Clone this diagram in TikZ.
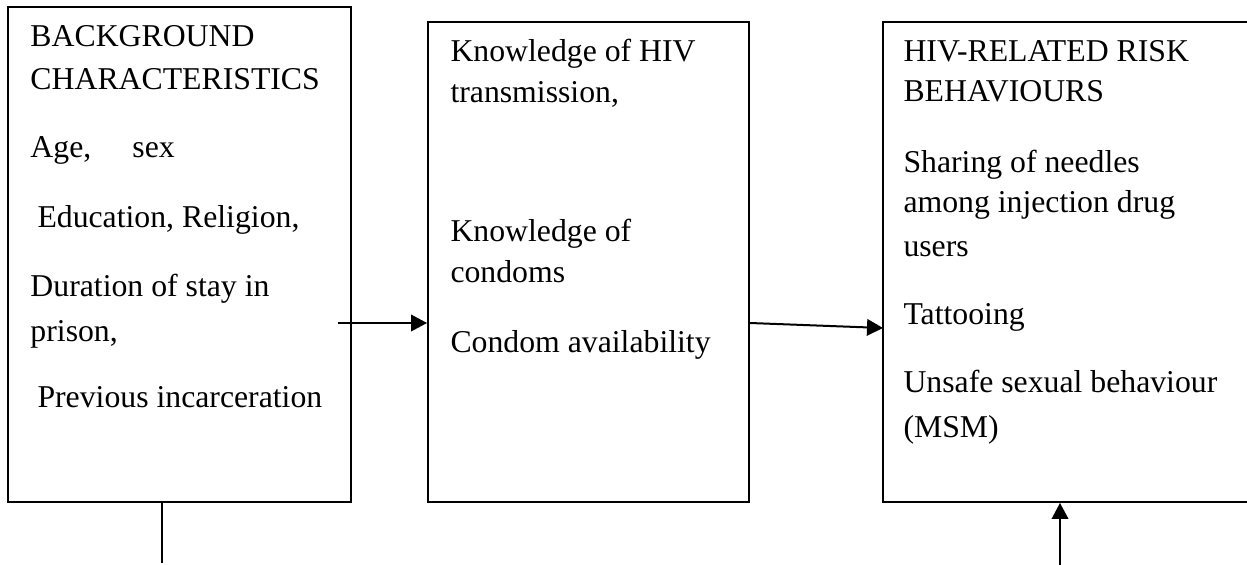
\documentclass[tikz,border=0pt]{standalone}
\usepackage{fontspec}
\setmainfont{Liberation Serif}
\usetikzlibrary{arrows.meta,fit,positioning}

\begin{document}
\begin{tikzpicture}[
  x=0.4pt, y=-0.4pt,
  box/.style={draw, line width=0.75pt, inner sep=0pt},
  txt/.style={anchor=base west, inner sep=0pt, font=\fontsize{12.7}{14}\selectfont},
  arr/.style={line width=0.8pt, -{Triangle[length=6.4pt,width=6.6pt]}}
]
\useasboundingbox (0,0) rectangle (1247,565);
% the three boxes
\node[box, fit={(8,7) (351,502)}] (bg) {};
\node[box, fit={(428,22) (749,502)}] (know) {};
\node[box, fit={(883,22) (1262,502)}] (risk) {};

% background characteristics
\foreach \x/\y/\t [count=\i] in {30/47/BACKGROUND, 30/90/CHARACTERISTICS,
    30/158/{\makebox[40.8pt][l]{Age,}sex}, 37/228/{Education, Religion,},
    30/297/Duration of stay in, 30/342/{prison,}, 37/408/Previous incarceration}
  \node[txt] (bg\i) at (\x,\y) {\t};

% knowledge
\foreach \y/\t [count=\i] in {62/Knowledge of HIV, 103/{transmission,},
    242/Knowledge of, 283/condoms, 353/Condom availability}
  \node[txt] (know\i) at (450,\y) {\t};

% risk behaviours
\foreach \y/\t [count=\i] in {62/HIV-RELATED RISK, 102/BEHAVIOURS,
    173/Sharing of needles, 213/among injection drug, 257/users,
    325/Tattooing, 393/Unsafe sexual behaviour, 437/(MSM)}
  \node[txt] (risk\i) at (903,\y) {\t};

% connectors
\coordinate (s1) at (338,323);
\coordinate (e2) at (883,328);
\coordinate (d1) at (162,563);
\coordinate (u1) at (1060,566);
\draw[arr] (s1) -- (s1 -| know.west);
\draw[arr] (know.east |- s1) -- (e2);
\draw[line width=0.8pt] (bg.south -| d1) -- (d1);
\draw[arr] (u1) -- (u1 |- risk.south);
\end{tikzpicture}
\end{document}
